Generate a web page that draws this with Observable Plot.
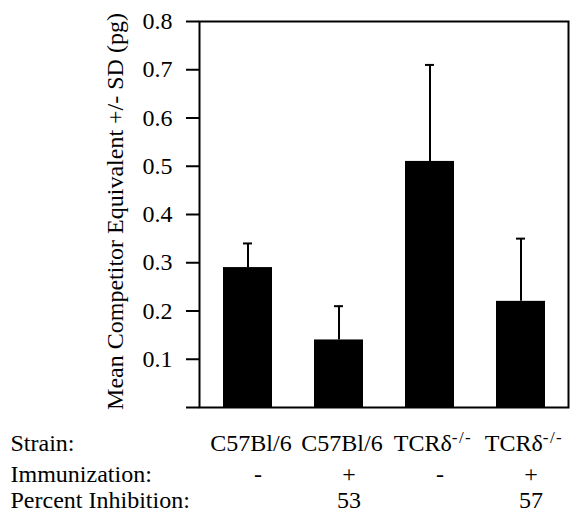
<!DOCTYPE html>
<html>
<head>
<meta charset="utf-8">
<script src="https://cdn.jsdelivr.net/npm/d3@7"></script>
<script src="https://cdn.jsdelivr.net/npm/@observablehq/plot@0.6"></script>
<style>
  body { margin: 0; background: white; }
  svg text, svg tspan { font-family: "Liberation Serif", "Times New Roman", serif !important; }
</style>
</head>
<body>
<div id="chart"></div>
<script>
const strains = ["C57Bl/6", "C57Bl/6", "TCRδ-/-", "TCRδ-/-"];
const immunization = ["-", "+", "-", "+"];
const inhibition = ["", "53", "", "57"];
const means = [0.29, 0.14, 0.51, 0.22];
const sds = [0.05, 0.07, 0.20, 0.13];
const yTicks = [0, 0.1, 0.2, 0.3, 0.4, 0.5, 0.6, 0.7, 0.8];
const rowLabels = ["Strain:", "Immunization:", "Percent Inhibition:"];
const yLabel = "Mean Competitor Equivalent +/- SD (pg)";

const data = strains.map((s, i) => ({
  key: s + " " + immunization[i],
  strain: s,
  imm: immunization[i],
  inh: inhibition[i],
  mean: means[i],
  top: means[i] + sds[i]
}));

const font = "'Liberation Serif', 'Times New Roman', serif";

const chart = Plot.plot({
  width: 577,
  height: 514,
  marginLeft: 199,
  marginRight: 9,
  marginTop: 21,
  marginBottom: 107,
  style: { fontFamily: font, fontSize: "24px", color: "black", background: "white" },
  x: { type: "band", domain: data.map(d => d.key), paddingInner: 0.4645, paddingOuter: 0.249, axis: null },
  y: { domain: [0, 0.8], axis: null },
  marks: [
    Plot.barY(data, { x: "key", y: "mean", fill: "black" }),
    Plot.ruleX(data, { x: "key", y1: "mean", y2: "top", stroke: "black", strokeWidth: 2 }),
    Plot.tickY(data, { x: "key", y: "top", stroke: "black", strokeWidth: 2, insetLeft: 20, insetRight: 20 }),
    Plot.frame({ stroke: "black", strokeWidth: 2 }),
    Plot.axisY({
      ticks: yTicks,
      tickFormat: d => d === 0 ? "" : d.toFixed(1),
      tickSize: 13,
      tickPadding: 14,
      strokeWidth: 2,
      fontSize: 24,
      label: null
    }),
    Plot.text([yLabel], {
      text: d => d, frameAnchor: "left", rotate: -90, dx: -84, dy: -3,
      textAnchor: "middle", lineAnchor: "middle", fontSize: 24, fill: "black"
    }),
    Plot.text(data, { x: "key", text: "strain", frameAnchor: "bottom", dy: 36, dx: 3, lineAnchor: "middle", fontSize: 24, fill: "black" }),
    Plot.text(data, { x: "key", text: "imm", frameAnchor: "bottom", dy: 67, dx: 10, lineAnchor: "middle", fontSize: 24, fill: "black" }),
    Plot.text(data, { x: "key", text: "inh", frameAnchor: "bottom", dy: 93, dx: 10, lineAnchor: "middle", fontSize: 24, fill: "black" }),
    Plot.text([rowLabels[0]], { text: d => d, frameAnchor: "bottom-left", dx: -189, dy: 36, textAnchor: "start", lineAnchor: "middle", fontSize: 24, fill: "black" }),
    Plot.text([rowLabels[1]], { text: d => d, frameAnchor: "bottom-left", dx: -189, dy: 67, textAnchor: "start", lineAnchor: "middle", fontSize: 24, fill: "black" }),
    Plot.text([rowLabels[2]], { text: d => d, frameAnchor: "bottom-left", dx: -189, dy: 93, textAnchor: "start", lineAnchor: "middle", fontSize: 24, fill: "black" })
  ]
});

// superscript "-/-" in TCRδ-/- labels
d3.select(chart).selectAll("text").each(function () {
  const t = this.textContent;
  if (t === "TCRδ-/-") {
    const sel = d3.select(this);
    sel.text("");
    sel.append("tspan").text("TCRδ");
    sel.append("tspan").attr("dy", "-0.5em").attr("font-size", "17px").attr("letter-spacing", "1.5px").text("-/-");
  }
});
d3.select(chart).attr("font-family", font);

document.getElementById("chart").appendChild(chart);
</script>
</body>
</html>
